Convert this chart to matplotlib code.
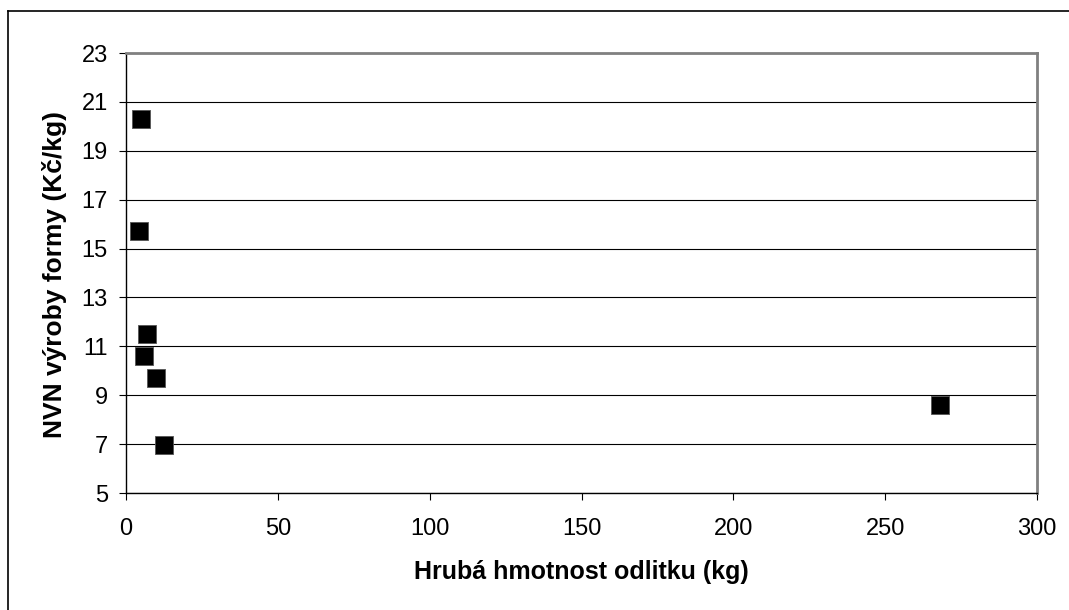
import matplotlib
matplotlib.use("Agg")
import matplotlib.pyplot as plt
from matplotlib.lines import Line2D

# Data
weight_kg = [4.8, 4.2, 6.9, 5.8, 10.0, 12.5, 267.9]
nvn_czk_per_kg = [20.3, 15.7, 11.5, 10.6, 9.7, 6.95, 8.6]
x_ticks = [0, 50, 100, 150, 200, 250, 300]
y_ticks = [5, 7, 9, 11, 13, 15, 17, 19, 21, 23]
x_label = "Hrubá hmotnost odlitku (kg)"
y_label = "NVN výroby formy (Kč/kg)"

plt.rcParams['font.family'] = ['Liberation Sans', 'DejaVu Sans']

fig = plt.figure(figsize=(10.69, 6.10), dpi=100)
W, H = 1069, 610
l, r, t, b = 126, 1037, 53, 493
ax = fig.add_axes([l / W, 1 - b / H, (r - l) / W, (b - t) / H])

ax.scatter(weight_kg, nvn_czk_per_kg, marker='s', s=12.6 ** 2, c='black',
           edgecolors='#555555', linewidths=0.6, zorder=3)

ax.set_xlim(0, 300)
ax.set_ylim(5, 23)
ax.set_xticks(x_ticks)
ax.set_yticks(y_ticks)
ax.yaxis.grid(True, color='black', linewidth=0.8)
ax.set_axisbelow(True)

ax.tick_params(axis='both', direction='out', length=5, width=0.8, color='black',
               labelsize=17)
ax.tick_params(axis='y', pad=8)
ax.tick_params(axis='x', pad=13)

for s in ['left', 'bottom']:
    ax.spines[s].set_color('black')
    ax.spines[s].set_linewidth(1.0)
for s in ['top', 'right']:
    ax.spines[s].set_color('#808080')
    ax.spines[s].set_linewidth(2.0)

ax.set_xlabel(x_label, fontsize=18, fontweight='bold')
ax.set_ylabel(y_label, fontsize=19, fontweight='bold')
ax.xaxis.set_label_coords((581 - l) / (r - l), (b - 560) / (b - t))
ax.yaxis.set_label_coords((67 - l) / (r - l), (b - 274) / (b - t))

# Outer chart-area border (only top and left visible in crop)
fig.add_artist(Line2D([8 / W, 8 / W], [0, 1 - 11 / H], transform=fig.transFigure,
                      color='black', linewidth=1.2))
fig.add_artist(Line2D([8 / W, 1], [1 - 11 / H, 1 - 11 / H], transform=fig.transFigure,
                      color='black', linewidth=1.2))

fig.savefig('out.png', dpi=100)
